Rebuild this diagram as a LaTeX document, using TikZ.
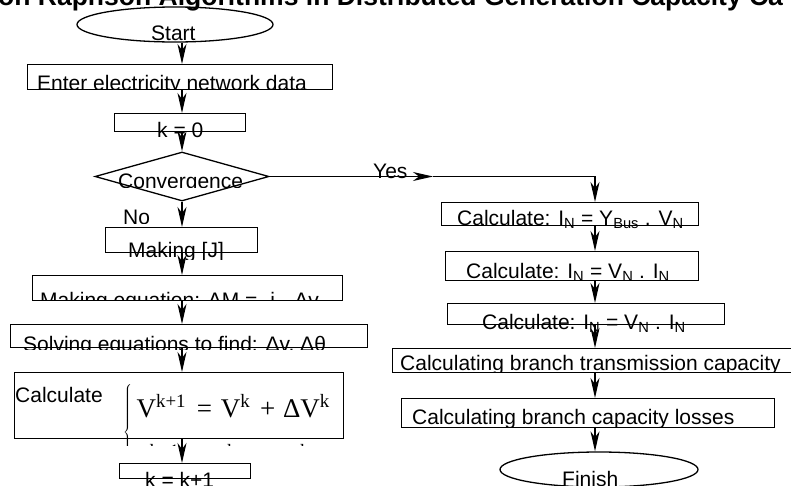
\documentclass[tikz,border=0pt]{standalone}
\usepackage{fontspec}
\setmainfont{Liberation Sans}
\newfontfamily\eqfont{Liberation Serif}
\usetikzlibrary{arrows.meta,shapes.geometric}

% text that is cut off below a given line
\newcommand{\cuttext}[5]{%
  \begin{scope}
    \clip (#2-20,#3-40) rectangle (#2+500,#4);
    \node[lbl] (#1) at (#2,#3) {#5};
  \end{scope}}

\begin{document}
\begin{tikzpicture}[
    x=1pt, y=-1pt,
    box/.style={draw, line width=1.3pt, rectangle, anchor=north west, inner sep=0pt},
    term/.style={draw, line width=1.3pt, ellipse, inner sep=0pt},
    decision/.style={draw, line width=1.3pt, diamond, inner sep=0pt},
    lbl/.style={anchor=base west, inner sep=0pt, font=\fontsize{21}{25}\selectfont},
    arr/.style={-{Stealth[length=20pt, width=9pt, inset=6pt]}, line width=1.3pt}
]
\useasboundingbox (0,0) rectangle (791,485);
\clip (0,0) rectangle (791,485);

% title, only its lower part shows
\node[anchor=base west, inner sep=0pt, font=\fontsize{26.5}{30}\selectfont\bfseries] (title) at (-2,5)
  {on Raphson Algorithms in Distributed Generation Capacity Ca};

\coordinate (colL) at (182,0);
\coordinate (colR) at (595,0);

% left column
\node[term, minimum width=196, minimum height=35] (start) at (175,24.5) {};
\node[box, minimum width=305, minimum height=25] (enter) at (27,64) {};
\node[box, minimum width=131, minimum height=18] (kzero) at (114,113) {};
\node[decision, minimum width=174, minimum height=49] (conv) at (182,176.5) {};
\node[box, minimum width=152, minimum height=25] (makej) at (105,227) {};
\node[box, minimum width=310, minimum height=25] (makeeq) at (32,275) {};
\node[box, minimum width=357, minimum height=23] (solve) at (10,324) {};
\node[box, minimum width=329, minimum height=66] (calcv) at (14,372) {};
\node[box, minimum width=131, minimum height=15] (kinc) at (119,463) {};

% right column
\node[box, minimum width=257, minimum height=23] (calc1) at (441,202) {};
\node[box, minimum width=253, minimum height=29] (calc2) at (445,251) {};
\node[box, minimum width=277, minimum height=21] (calc3) at (447,303) {};
\node[box, minimum width=403, minimum height=24] (trans) at (392,348) {};
\node[box, minimum width=373, minimum height=29] (losses) at (401,398) {};
\node[term, minimum width=198, minimum height=35] (finish) at (599,469.5) {};

% texts
\node[lbl] (t-start) at (151,40) {Start};
\cuttext{t-enter}{37}{90}{89}{Enter electricity network data}
\node[lbl] (t-kzero) at (157,137) {k = 0};
\cuttext{t-conv}{118}{188}{187}{Convergence}
\cuttext{t-no}{123}{224}{223}{No}
\cuttext{t-yes}{373}{178}{178}{Yes}
\cuttext{t-makej}{128}{257}{259}{Making [J]}
\cuttext{t-makeeq}{40}{307}{300}{Making equation: ΔM = -j . Δv}
\cuttext{t-solve}{23}{351}{349}{Solving equations to find: Δv, Δθ}
\node[lbl] (t-calc) at (15,402) {Calculate};
\begin{scope}
  \clip (100,380) rectangle (345,445);
  \node[anchor=west, inner sep=0pt, font=\fontsize{27}{50}\selectfont\eqfont] (t-eq) at (123,432)
    {$\left\{\begin{tabular}{@{}l@{}}
      \,V\textsuperscript{k+1}\hspace{4pt} = \hspace{2pt}V\textsuperscript{k}\hspace{3pt} + \hspace{1pt}ΔV\textsuperscript{k}\\
      \,θ\textsuperscript{k+1}\hspace{4pt} = \hspace{2pt}θ\textsuperscript{k}\hspace{3pt} + \hspace{1pt}Δθ\textsuperscript{k}
    \end{tabular}\right.$};
\end{scope}
\node[lbl] (t-kinc) at (145,487) {k = k+1};
\node[lbl] (t-calc1) at (457,225) {Calculate: I\textsubscript{N} = Y\textsubscript{Bus} . V\textsubscript{N}};
\cuttext{t-calc2}{466}{278}{280}{Calculate: I\textsubscript{N} = V\textsubscript{N} . I\textsubscript{N}}
\cuttext{t-calc3}{482}{329}{334}{Calculate: I\textsubscript{N} = V\textsubscript{N} . I\textsubscript{N}}
\cuttext{t-trans}{400}{370}{372}{Calculating branch transmission capacity}
\cuttext{t-losses}{412}{424}{427}{Calculating branch capacity losses}
\node[lbl] (t-finish) at (562,486) {Finish};

% connectors
\draw[arr] (start.south -| colL) -- (enter.north -| colL);
\draw[arr] (enter.south -| colL) -- (kzero.north -| colL);
\draw[arr] (kzero.south -| colL) -- (conv.north);
\draw[arr] (conv.south) -- (makej.north -| colL);
\draw[arr] (makej.south -| colL) -- (makeeq.north -| colL);
\draw[arr] (makeeq.south -| colL) -- (solve.north -| colL);
\draw[arr] (solve.south -| colL) -- (calcv.north -| colL);
\draw[arr] (calcv.south -| colL) -- (kinc.north -| colL);

\coordinate (yesarr) at (433,176.5);
\draw[arr] (conv.east) -- (yesarr);
\draw[arr] (yesarr) -- (yesarr -| colR) -- (calc1.north -| colR);
\draw[arr] (calc1.south -| colR) -- (calc2.north -| colR);
\draw[arr] (calc2.south -| colR) -- (calc3.north -| colR);
\draw[arr] (calc3.south -| colR) -- (trans.north -| colR);
\draw[arr] (trans.south -| colR) -- (losses.north -| colR);
\draw[arr] (losses.south -| colR) -- (finish.north -| colR);

\end{tikzpicture}
\end{document}
